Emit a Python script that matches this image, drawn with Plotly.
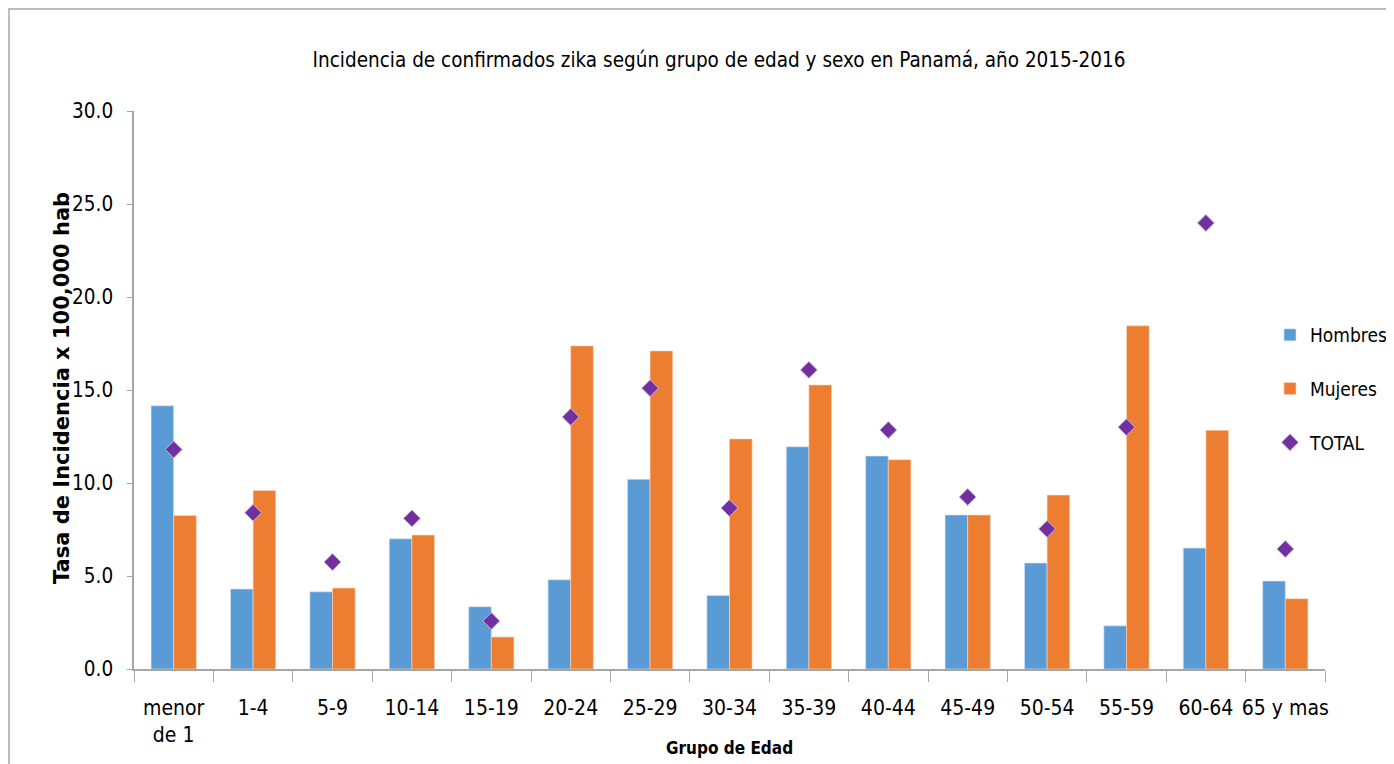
import plotly.graph_objects as go

# Incidencia de zika por grupo de edad (tasa x 100,000 hab)
grupos = ["menor<br>de 1", "1-4", "5-9", "10-14", "15-19", "20-24", "25-29", "30-34",
          "35-39", "40-44", "45-49", "50-54", "55-59", "60-64", "65 y mas"]
hombres = [14.15, 4.3, 4.15, 7.0, 3.35, 4.8, 10.2, 3.95, 11.95, 11.45, 8.28, 5.7, 2.32, 6.5, 4.73]
mujeres = [8.25, 9.6, 4.35, 7.2, 1.72, 17.37, 17.1, 12.37, 15.27, 11.25, 8.28, 9.35, 18.45, 12.83, 3.78]
total = [11.8, 8.4, 5.75, 8.1, 2.58, 13.55, 15.1, 8.65, 16.08, 12.85, 9.25, 7.53, 13.0, 23.98, 6.45]

FONT = "DejaVu Sans Condensed, Liberation Sans Narrow, sans-serif"
OFF = 8  # page body margin: the figure starts at (8, 8) in the window
W, H = 1420, 764 - OFF
PL, PR, PT, PB = 134, 1325, 111, 669  # plot area, window pixels

fig = go.Figure()

fig.add_trace(go.Bar(
    x=grupos, y=hombres, name="Hombres", legendgroup="h",
    marker=dict(color="#5B9BD5", line=dict(color="#D6E4F2", width=0.6))
))
fig.add_trace(go.Bar(
    x=grupos, y=mujeres, name="Mujeres", legendgroup="m",
    marker=dict(color="#ED7D31", line=dict(color="#F8D6BF", width=0.6))
))
fig.add_trace(go.Scatter(
    x=grupos, y=total, name="TOTAL", legendgroup="t", mode="markers",
    marker=dict(symbol="diamond", color="#7030A0", size=13, line=dict(color="#C9B3DC", width=1))
))


def px_x(p):
    return (p - PL) / (PR - PL)


def px_y(p):
    return (PB - p) / (PB - PT)


fig.update_layout(
    width=W, height=H,
    margin=dict(l=PL - OFF, r=W + OFF - PR, t=PT - OFF, b=764 - PB),
    plot_bgcolor="white", paper_bgcolor="white",
    font=dict(family=FONT, size=21, color="#000000"),
    barmode="group", bargap=0.43, bargroupgap=0,
    title=dict(
        text="Incidencia de confirmados zika según grupo de edad y sexo en Panamá, año 2015-2016",
        x=px_x(719), xanchor="center", xref="paper",
        y=1 - (60 - OFF) / H, yanchor="middle",
        font=dict(family=FONT, size=20.5, color="#000000")
    ),
    legend=dict(
        x=px_x(1270), xanchor="left", y=px_y(316), yanchor="top",
        font=dict(family=FONT, size=19), tracegroupgap=26,
        traceorder="grouped", bgcolor="rgba(0,0,0,0)"
    ),
    xaxis=dict(
        automargin=False, tickangle=0, range=[-0.5, len(grupos) - 0.5],
        showline=True, linecolor="#A6A6A6", linewidth=1.5,
        ticks="outside", tickson="boundaries", ticklen=11, tickcolor="#A6A6A6",
        ticklabelstandoff=19,
        tickfont=dict(family=FONT, size=21),
        showgrid=False
    ),
    yaxis=dict(
        automargin=False,
        range=[0, 30], dtick=5, tickformat=".1f",
        showline=True, linecolor="#A6A6A6", linewidth=1.5,
        ticks="outside", ticklen=5, tickcolor="#A6A6A6",
        ticklabelstandoff=10,
        tickfont=dict(family=FONT, size=20.5),
        showgrid=False, zeroline=False
    ),
)

# axis titles
fig.add_annotation(
    text="<b>Grupo de Edad</b>", xref="paper", yref="paper",
    x=px_x(729), y=px_y(748), xanchor="center", yanchor="middle",
    showarrow=False, font=dict(family=FONT, size=17, color="#000000")
)
fig.add_annotation(
    text="<b>Tasa de Incidencia x 100,000 hab</b>", xref="paper", yref="paper",
    x=px_x(62), y=px_y(388), xanchor="center", yanchor="middle", textangle=-90,
    showarrow=False, font=dict(family="DejaVu Sans, Verdana, sans-serif", size=21, color="#000000")
)

# outer chart border (top and left edges are visible)
fig.add_shape(
    type="rect", xref="paper", yref="paper",
    x0=px_x(OFF + 1), x1=px_x(1450), y0=px_y(820), y1=px_y(OFF + 1),
    line=dict(color="#A6A6A6", width=1.5), fillcolor="rgba(0,0,0,0)", layer="below"
)

fig.write_html("out.html")
